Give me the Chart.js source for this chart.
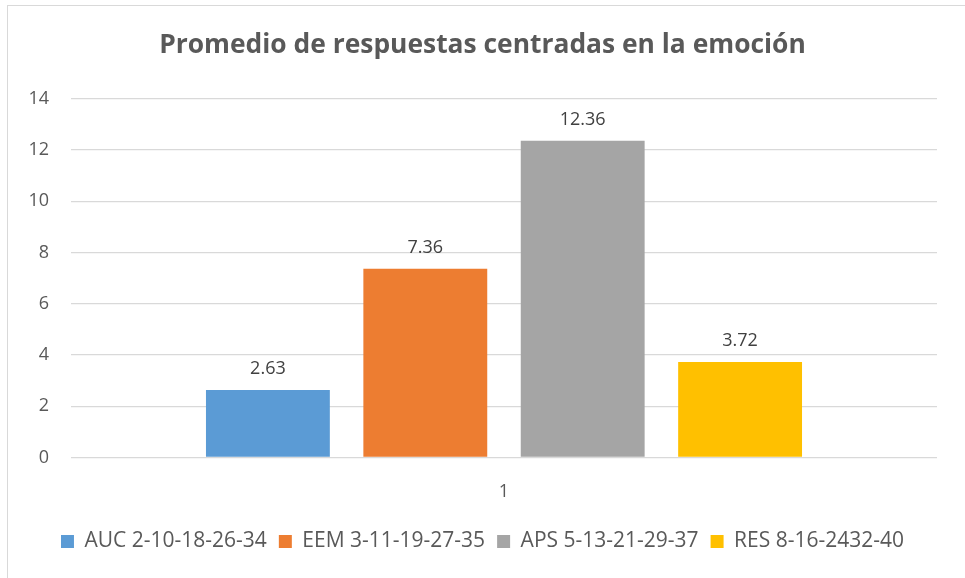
<!DOCTYPE html>
<html>
<head>
<meta charset="utf-8">
<script src="https://cdn.jsdelivr.net/npm/chart.js@4"></script>
<style>
  body { margin: 0; background: #fff; overflow: hidden; }
  #box {
    position: absolute; left: 7px; top: 5px;
    width: 960px; height: 580px;
    border: 1px solid #d9d9d9; box-sizing: border-box;
  }
</style>
</head>
<body>
<div id="box"><canvas id="c"></canvas></div>
<script>
// data
const categories = ['1'];
const seriesNames = ['AUC 2-10-18-26-34', 'EEM 3-11-19-27-35', 'APS 5-13-21-29-37', 'RES 8-16-2432-40'];
const seriesValues = [2.63, 7.36, 12.36, 3.72];
const seriesColors = ['#5b9bd5', '#ed7d31', '#a5a5a5', '#ffc000'];

const FONT = "'Open Sans', sans-serif";
const TEXT = '#595959';

// draws the value above each bar
const valueLabels = {
    id: 'valueLabels',
    afterDatasetsDraw(chart) {
        const ctx = chart.ctx;
        ctx.save();
        ctx.font = '18px ' + FONT;
        ctx.fillStyle = '#404040';
        ctx.textAlign = 'center';
        ctx.textBaseline = 'bottom';
        chart.data.datasets.forEach((ds, i) => {
            chart.getDatasetMeta(i).data.forEach((bar, j) => {
                ctx.fillText(ds.data[j].toFixed(2), bar.x, bar.y - 12);
            });
        });
        ctx.restore();
    }
};

new Chart(document.getElementById('c'), {
    type: 'bar',
    data: {
        labels: categories,
        datasets: seriesNames.map((name, i) => ({
            label: name,
            data: [seriesValues[i]],
            backgroundColor: seriesColors[i],
            categoryPercentage: 0.727,
            barPercentage: 0.787
        }))
    },
    options: {
        responsive: true,
        maintainAspectRatio: false,
        animation: false,
        layout: { padding: { left: 20, right: 29, top: 10, bottom: 22 } },
        plugins: {
            title: {
                display: true,
                text: 'Promedio de respuestas centradas en la emoción',
                color: TEXT,
                font: { family: FONT, size: 26.4, weight: 'bold' },
                padding: { top: 14, bottom: 37 }
            },
            legend: {
                position: 'bottom',
                labels: {
                    color: TEXT,
                    font: { family: FONT, size: 21 },
                    boxWidth: 13,
                    boxHeight: 13,
                    padding: 12
                }
            },
            tooltip: { enabled: false }
        },
        scales: {
            x: {
                grid: { display: false },
                border: { display: false },
                ticks: { color: TEXT, font: { family: FONT, size: 18 }, padding: 16 }
            },
            y: {
                min: 0,
                max: 14,
                afterFit(scale) { scale.width = 43; },
                ticks: { stepSize: 2, color: TEXT, font: { family: FONT, size: 18 }, padding: 22 },
                grid: { color: '#d9d9d9', lineWidth: 1.3, drawTicks: false },
                border: { display: false }
            }
        }
    },
    plugins: [valueLabels]
});
</script>
</body>
</html>
